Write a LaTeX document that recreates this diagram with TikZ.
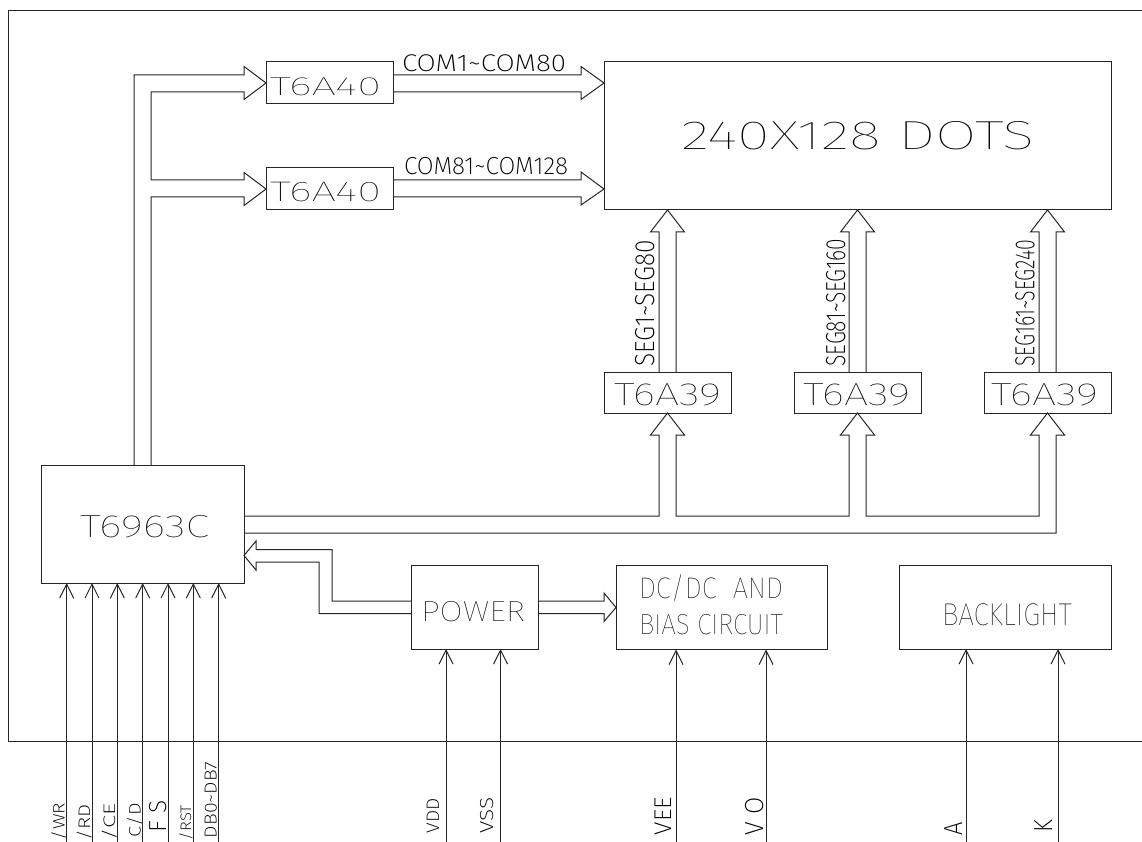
\documentclass[tikz,border=0pt]{standalone}
\usepackage{fontspec}
\IfFontExistsTF{Fira Sans Thin}{\setmainfont{Fira Sans Thin}}{%
  \IfFontExistsTF{Fira Sans ExtraLight}{\setmainfont{Fira Sans ExtraLight}}{%
    \setmainfont{Fira Sans}[UprightFont={* Light}]}}
\IfFontExistsTF{Fira Sans ExtraLight}{\newfontfamily\smallfnt{Fira Sans ExtraLight}}{%
  \newfontfamily\smallfnt{Fira Sans}[UprightFont={* Light}]}
\usetikzlibrary{arrows.meta,calc}
\newcommand\mylbl[3]{\pgfmathsetmacro\mylblfs{#2*1.45}\resizebox{#1pt}{\height}{\fontsize{\mylblfs pt}{\mylblfs pt}\selectfont #3}}
\newcommand\mylbls[3]{\pgfmathsetmacro\mylblfs{#2*1.45}\resizebox{#1pt}{\height}{\smallfnt\fontsize{\mylblfs pt}{\mylblfs pt}\selectfont #3}}
\tikzset{
  ln/.style={line width=1pt, draw=black!85},
  blk/.style={ln, rectangle, inner sep=0pt, outer sep=0pt},
  txt/.style={inner sep=0pt, outer sep=0pt, anchor=base west},
  vtxt/.style={inner sep=0pt, outer sep=0pt, anchor=base west, rotate=90},
  pin/.style={ln, -{Straight Barb[length=14pt,width=14pt,line width=1pt]}},
}
\begin{document}
\begin{tikzpicture}[x=1pt,y=-1pt]
\fill[white] (0,0) rectangle (1142,842);
\useasboundingbox (0,0) rectangle (1142,842);

% outer frame (open to the right)
\draw[ln] (1142,11) -- (8,11) -- (8,741) -- (1142,741);

% blocks
\node[blk, minimum width=127pt, minimum height=42pt] (t40a) at (329.5,83) {};
\node[blk, minimum width=127pt, minimum height=42pt] (t40b) at (329.5,189) {};
\node[blk, minimum width=507pt, minimum height=148pt] (dots) at (857.5,136) {};
\node[blk, minimum width=127pt, minimum height=41pt] (t39a) at (667.5,392.5) {};
\node[blk, minimum width=127pt, minimum height=41pt] (t39b) at (857.5,392.5) {};
\node[blk, minimum width=127pt, minimum height=41pt] (t39c) at (1047.5,392.5) {};
\node[blk, minimum width=203pt, minimum height=118pt] (ctrl) at (142.5,524) {};
\node[blk, minimum width=127.5pt, minimum height=84pt] (power) at (474.75,607) {};
\node[blk, minimum width=211pt, minimum height=84pt] (dcdc) at (721.5,607.5) {};
\node[blk, minimum width=212pt, minimum height=84pt] (bl) at (1005,607) {};

% block texts
\node[txt] (l40a) at (270,96) {\mylbl{111}{18}{T6A40}};
\node[txt] (l40b) at (270,201.5) {\mylbl{111}{19.5}{T6A40}};
\node[txt] (ldots) at (681,150) {\mylbl{354}{28}{240X128 DOTS}};
\node[txt] (l39a) at (614,405) {\mylbl{107}{22}{T6A39}};
\node[txt] (l39b) at (803,405) {\mylbl{107}{22}{T6A39}};
\node[txt] (l39c) at (991,405) {\mylbl{107}{22}{T6A39}};
\node[txt] (lctrl) at (80,537) {\mylbl{129}{22}{T6963C}};
\node[txt] (lpow) at (421,621) {\mylbl{104}{20}{POWER}};
\node[txt] (ldc1) at (639,598) {\mylbl{144}{20.5}{DC/DC\ \ AND}};
\node[txt] (ldc2) at (639,634) {\mylbl{144}{20}{BIAS CIRCUIT}};
\node[txt] (lbl) at (942,625) {\mylbl{130}{21.7}{BACKLIGHT}};

% bus from T6963C to the two T6A40
\draw[ln] (134,465) -- (134,75) -- (244,75) -- (244,66.5) -- (t40a.west) -- (244,99.5) -- (244,92)
  -- (151,92) -- (151,180) -- (244,180) -- (244,172.5) -- (t40b.west) -- (244,205.5) -- (244,197)
  -- (151,197) -- (151,465);

% COM buses
\draw[ln] (393,75) -- (581,75) -- (581,66.5) -- (t40a.east -| dots.west) -- (581,99.5) -- (581,92) -- (393,92);
\draw[ln] (393,180) -- (581,180) -- (581,172) -- (t40b.east -| dots.west) -- (581,205) -- (581,197) -- (393,197);
\node[txt] (lcom1) at (402,71.7) {\mylbls{164}{16.7}{COM1\textasciitilde COM80}};
\node[txt] (lcom2) at (404,175) {\mylbls{164}{17}{COM81\textasciitilde COM128}};

% SEG buses
\foreach \n/\c in {t39a/667.5, t39b/857.5, t39c/1047.5}{
  \draw[ln] ({\c-8.5},372) -- ({\c-8.5},232) -- ({\c-17},232) -- (\n.north |- dots.south)
    -- ({\c+17},232) -- ({\c+8.5},232) -- ({\c+8.5},372);
}
\node[vtxt] (lseg1) at (654.3,366.7) {\mylbls{127}{19}{SEG1\textasciitilde SEG80}};
\node[vtxt] (lseg2) at (845,366.7) {\mylbls{128}{19}{SEG81\textasciitilde SEG160}};
\node[vtxt] (lseg3) at (1034.3,366.7) {\mylbls{127}{19}{SEG161\textasciitilde SEG240}};

% bus from T6963C to the three T6A39
\draw[ln] (244,516) -- (659,516) -- (659,435) -- (650.5,435) -- (t39a.south) -- (684.5,435) -- (676,435)
  -- (676,516) -- (849,516) -- (849,435) -- (840.5,435) -- (t39b.south) -- (874.5,435) -- (866,435)
  -- (866,516) -- (1039,516) -- (1039,435) -- (1030.5,435) -- (t39c.south) -- (1064.5,435) -- (1056,435)
  -- (1056,533) -- (244,533);

% POWER to T6963C
\coordinate (ctrlin) at (244,555.5);
\draw[ln] (411,601) -- (332,601) -- (332,549.5) -- (256,549.5) -- (256,541) -- (ctrlin) -- (256,570)
  -- (256,562) -- (319,562) -- (319,613.5) -- (411,613.5);

% POWER to DC/DC
\draw[ln] (538.5,601) -- (604,601) -- (604,593) -- (dcdc.west) -- (604,621.5) -- (604,613.5) -- (538.5,613.5);

% input pins
\foreach \i/\x in {1/66.7,2/92,3/117.3,4/142.7,5/168,6/193.3,7/218.7}{
  \coordinate (p\i) at (\x,842);
  \draw[pin] (p\i) -- (p\i |- ctrl.south);
}
\coordinate (pvdd) at (446,842);
\coordinate (pvss) at (500.5,842);
\coordinate (pvee) at (676,842);
\coordinate (pvo) at (766,842);
\coordinate (pa) at (966,842);
\coordinate (pk) at (1058,842);
\draw[pin] (pvdd) -- (pvdd |- power.south);
\draw[pin] (pvss) -- (pvss |- power.south);
\draw[pin] (pvee) -- (pvee |- dcdc.south);
\draw[pin] (pvo) -- (pvo |- dcdc.south);
\draw[pin] (pa) -- (pa |- bl.south);
\draw[pin] (pk) -- (pk |- bl.south);

% pin labels
\node[vtxt] (lwr) at (64.5,840) {\mylbls{37}{11.5}{/WR}};
\node[vtxt] (lrd) at (90,840) {\mylbls{36}{11.5}{/RD}};
\node[vtxt] (lce) at (115.5,840) {\mylbls{37}{11.5}{/CE}};
\node[vtxt] (lcd) at (140.5,837) {\mylbls{34}{11.5}{C/D}};
\node[vtxt] (lfs) at (166,832) {\mylbls{32}{17}{F S}};
\node[vtxt] (lrst) at (191,840) {\mylbls{35}{10.5}{/RST}};
\node[vtxt] (ldb) at (216.5,838) {\mylbls{76}{12}{DB0\textasciitilde DB7}};
\node[vtxt] (lvdd) at (439,833) {\mylbls{35}{12.5}{VDD}};
\node[vtxt] (lvss) at (493,833) {\mylbls{36}{13}{VSS}};
\node[vtxt] (lvee) at (671.5,835) {\mylbls{38}{16.7}{VEE}};
\node[vtxt] (lvo) at (763.5,835) {\mylbls{38}{18}{V O}};
\node[vtxt] (la) at (962.7,835) {\mylbls{13.3}{18}{A}};
\node[vtxt] (lk) at (1052,832.7) {\mylbls{12.7}{18}{K}};
\end{tikzpicture}
\end{document}
